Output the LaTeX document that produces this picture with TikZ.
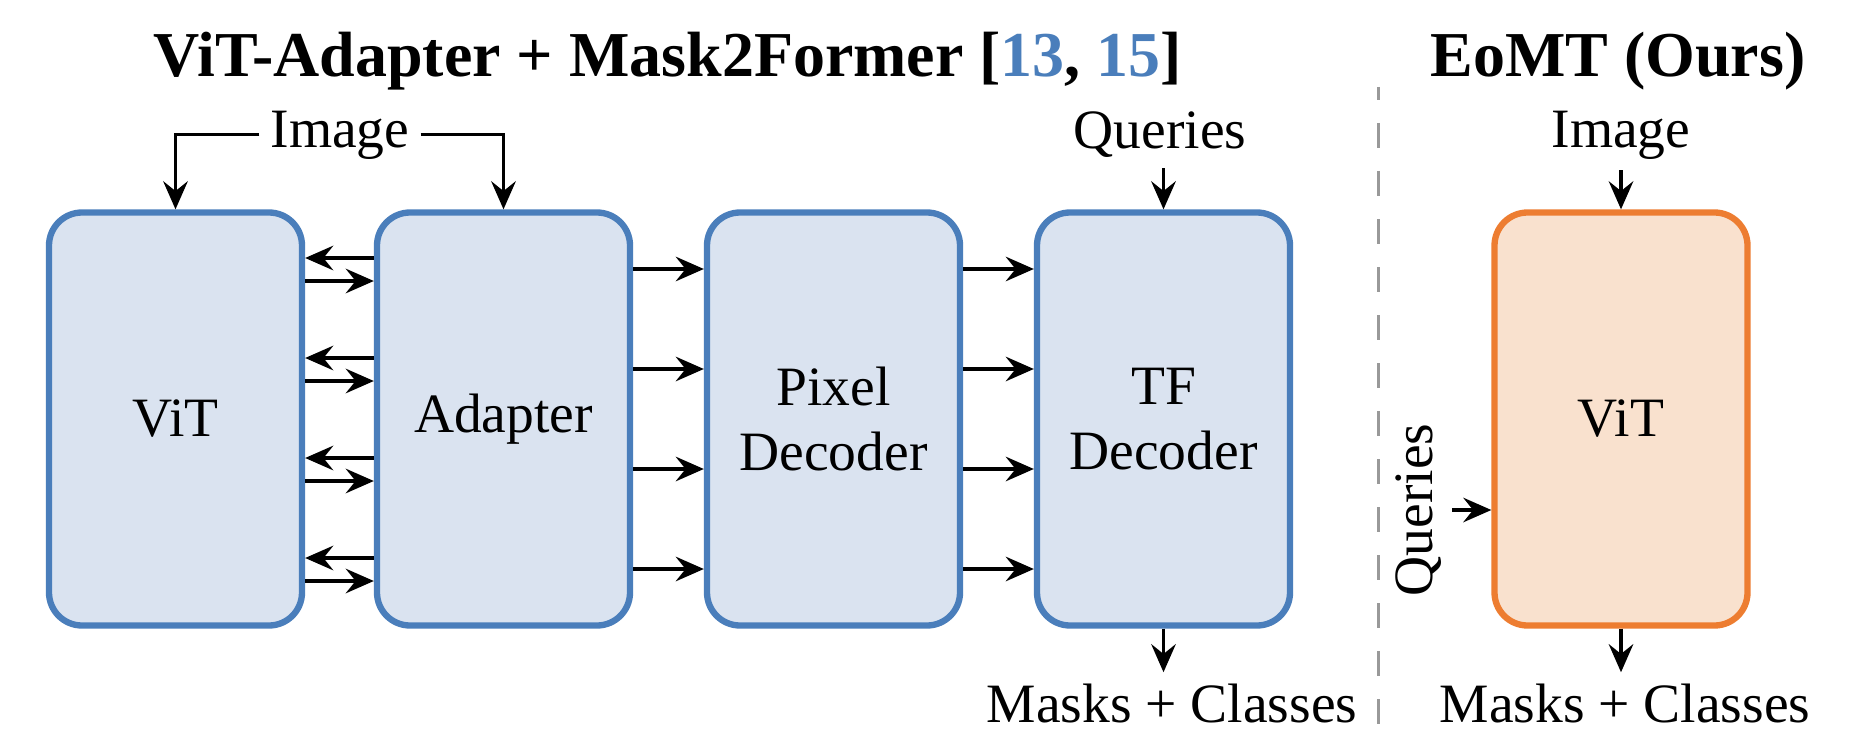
\documentclass[tikz,border=0pt]{standalone}
\usepackage{fontspec}
\setmainfont{Liberation Serif}
\usepackage{tikz}
\usetikzlibrary{arrows.meta}
\definecolor{vitblue}{HTML}{4A7EBB}
\definecolor{vitfill}{HTML}{DAE3F0}
\definecolor{eomtorange}{HTML}{ED7D31}
\definecolor{eomtfill}{HTML}{F9E1CE}
\newcommand{\lbl}{\fontsize{15.8}{18.5}\selectfont}
\newcommand{\ttl}{\bfseries\fontsize{18.2}{21}\selectfont}

\begin{document}
\begin{tikzpicture}[
		block/.style={draw=vitblue, fill=vitfill, line width=1.8pt, rounded corners=0.33cm,
			minimum width=2.53cm, minimum height=4.13cm, align=center, font=\lbl},
		txt/.style={font=\lbl, inner sep=3pt},
		flow/.style={-{Stealth[length=8pt,width=7pt,inset=2.8pt]}, line width=0.9pt}
	]
		\useasboundingbox (0,0) rectangle (18.5,7.44);
		
		\node [anchor=base, font=\ttl] (title) at (6.68,6.68) {ViT-Adapter + Mask2Former [\textcolor{vitblue}{13}, \textcolor{vitblue}{15}]};
		\node [anchor=base, font=\ttl] (titleours) at (16.18,6.68) {EoMT (Ours)};
		\draw [black!40, line width=0.85pt, dash pattern=on 0.25cm off 0.23cm, dash phase=0.12cm] (13.78,6.57) -- (13.78,0);
		
		\node [block] (vit) at (1.755,3.25) {ViT};
		\node [block] (adapter) at (5.035,3.25) {Adapter};
		\node [block] (pixdec) at (8.335,3.25) {Pixel\\Decoder};
		\node [block] (tfdec) at (11.635,3.25) {TF\\Decoder};
		\node [block, draw=eomtorange, fill=eomtfill] (eomt) at (16.21,3.25) {ViT};
		
		\node [txt, anchor=base] (img) at (3.40,5.97) {Image};
		\draw [flow] (img.west) -| (vit.north);
		\draw [flow] (img.east) -| (adapter.north);
		
		\foreach \y in {1.5,0.5,-0.5,-1.5} {
			\draw [flow] ([yshift=\y cm+0.11cm]adapter.west) -- ([yshift=\y cm+0.11cm]vit.east);
			\draw [flow] ([yshift=\y cm-0.12cm]vit.east) -- ([yshift=\y cm-0.12cm]adapter.west);
			\draw [flow] ([yshift=\y cm]adapter.east) -- ([yshift=\y cm]pixdec.west);
			\draw [flow] ([yshift=\y cm]pixdec.east) -- ([yshift=\y cm]tfdec.west);
		}
		
		\node [txt, anchor=base] (qtf) at (11.60,5.96) {Queries};
		\draw [flow] (qtf.south -| tfdec.north) -- (tfdec.north);
		\node [txt, anchor=base] (mtf) at (11.72,0.22) {Masks + Classes};
		\draw [flow] (tfdec.south) -- (tfdec.south |- mtf.north);
		
		\node [txt, anchor=base] (imgeomt) at (16.21,5.97) {Image};
		\draw [flow] (imgeomt) -- (eomt);
		\node [txt, anchor=base, rotate=90] (qeomt) at (14.32,2.34) {Queries};
		\draw [flow] (qeomt.south) -- (qeomt.south -| eomt.west);
		\node [txt, anchor=base] (meomt) at (16.25,0.22) {Masks + Classes};
		\draw [flow] (eomt.south) -- (eomt.south |- meomt.north);
	\end{tikzpicture}
\end{document}
